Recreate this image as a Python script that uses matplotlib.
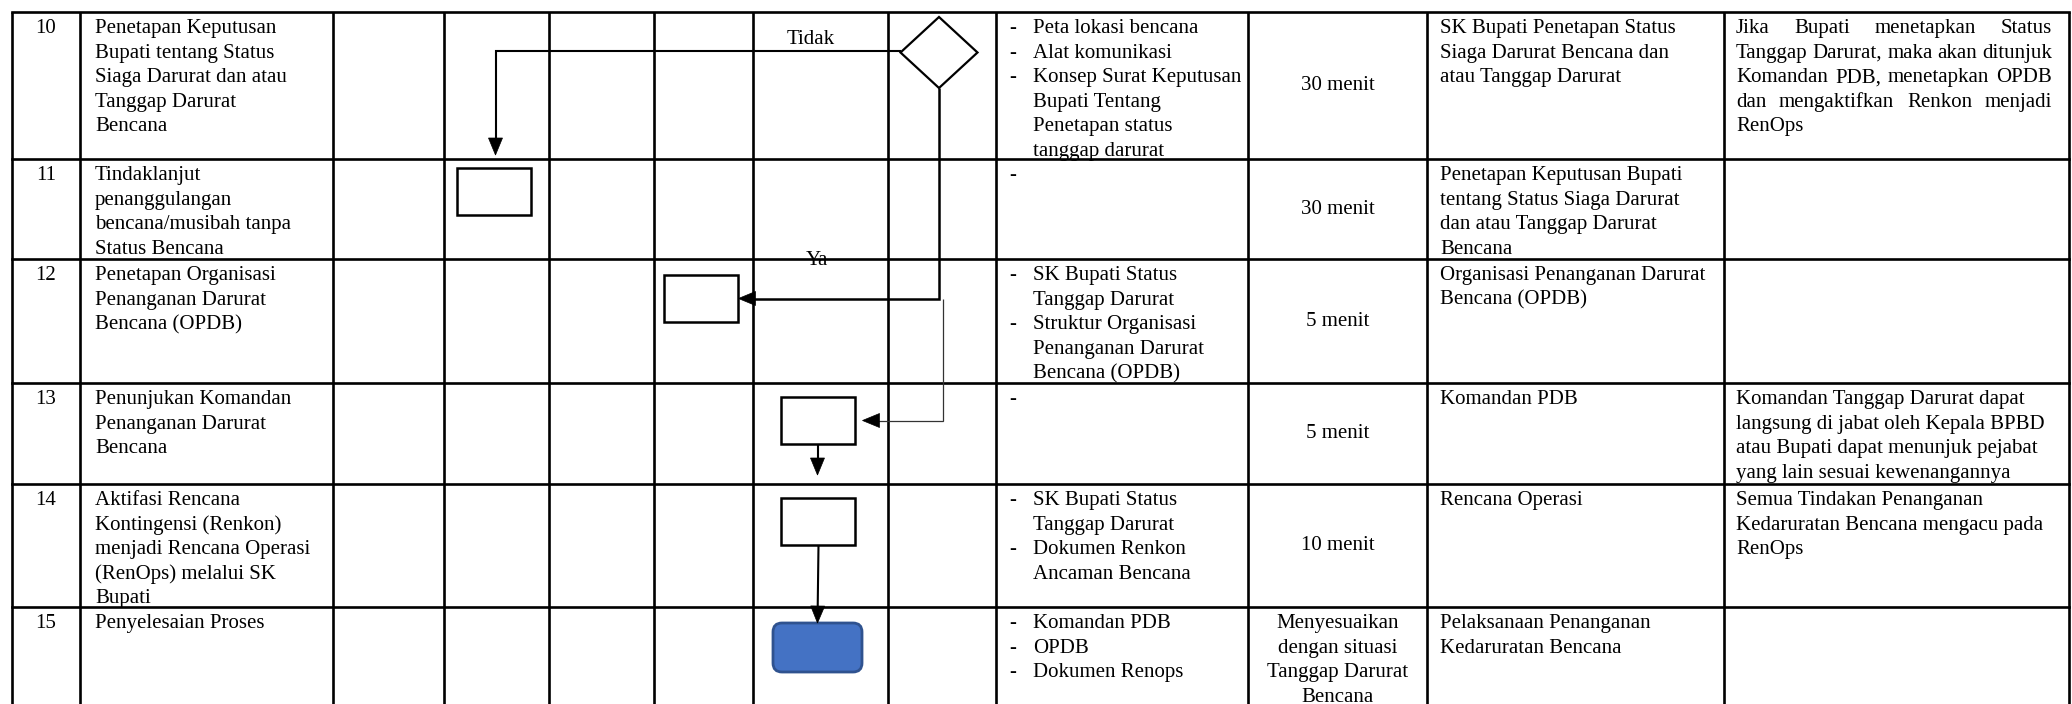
import math
import matplotlib
matplotlib.use('Agg')
import matplotlib.pyplot as plt
from matplotlib.patches import Rectangle, Polygon, FancyBboxPatch

plt.rcParams['font.family'] = ['Liberation Serif', 'DejaVu Serif']

# table grid (pixel positions of the cell borders)
col_edges = [12, 80, 333, 444, 549, 654, 753, 888, 996, 1248, 1427, 1724, 2069]
row_edges = [12, 159, 259, 383, 484, 607, 704]

step_numbers = ['10', '11', '12', '13', '14', '15']

kegiatan = [
    ['Penetapan Keputusan', 'Bupati tentang Status', 'Siaga Darurat dan atau', 'Tanggap Darurat', 'Bencana'],
    ['Tindaklanjut', 'penanggulangan', 'bencana/musibah tanpa', 'Status Bencana'],
    ['Penetapan Organisasi', 'Penanganan Darurat', 'Bencana (OPDB)'],
    ['Penunjukan Komandan', 'Penanganan Darurat', 'Bencana'],
    ['Aktifasi Rencana', 'Kontingensi (Renkon)', 'menjadi Rencana Operasi', '(RenOps) melalui SK', 'Bupati'],
    ['Penyelesaian Proses'],
]

kelengkapan = [
    [['Peta lokasi bencana'], ['Alat komunikasi'],
     ['Konsep Surat Keputusan', 'Bupati Tentang', 'Penetapan status', 'tanggap darurat']],
    [[]],
    [['SK Bupati Status', 'Tanggap Darurat'],
     ['Struktur Organisasi', 'Penanganan Darurat', 'Bencana (OPDB)']],
    [[]],
    [['SK Bupati Status', 'Tanggap Darurat'], ['Dokumen Renkon', 'Ancaman Bencana']],
    [['Komandan PDB'], ['OPDB'], ['Dokumen Renops']],
]

waktu = [
    ['30 menit'], ['30 menit'], ['5 menit'], ['5 menit'], ['10 menit'],
    ['Menyesuaikan', 'dengan situasi', 'Tanggap Darurat', 'Bencana'],
]

output = [
    ['SK Bupati Penetapan Status', 'Siaga Darurat Bencana dan', 'atau Tanggap Darurat'],
    ['Penetapan Keputusan Bupati', 'tentang Status Siaga Darurat', 'dan atau Tanggap Darurat', 'Bencana'],
    ['Organisasi Penanganan Darurat', 'Bencana (OPDB)'],
    ['Komandan PDB'],
    ['Rencana Operasi'],
    ['Pelaksanaan Penanganan', 'Kedaruratan Bencana'],
]

keterangan = [
    ['Jika Bupati menetapkan Status', 'Tanggap Darurat, maka akan ditunjuk',
     'Komandan PDB, menetapkan OPDB', 'dan mengaktifkan Renkon menjadi', 'RenOps'],
    [],
    [],
    ['Komandan Tanggap Darurat dapat', 'langsung di jabat oleh Kepala BPBD',
     'atau Bupati dapat menunjuk pejabat', 'yang lain sesuai kewenangannya'],
    ['Semua Tindakan Penanganan', 'Kedaruratan Bencana mengacu pada', 'RenOps'],
    [],
]
keterangan_justify = [True, False, False, False, False, False]

# flowchart symbols: row, lane column, kind, offset from the row top
shapes = [
    (0, 7, 'decision', 5),
    (1, 3, 'process', 9),
    (2, 5, 'process', 16),
    (3, 6, 'process', 14),
    (4, 6, 'process', 14),
    (5, 6, 'end', 16),
]
decision_labels = ['Tidak', 'Ya']

FS = 15
LINE = 24.6
BASE = 21

fig = plt.figure(figsize=(20.72, 7.04), dpi=100)
ax = fig.add_axes([0, 0, 1, 1])
ax.set_xlim(0, 2072)
ax.set_ylim(704, 0)
ax.axis('off')

# grid
for x in col_edges:
    ax.plot([x, x], [row_edges[0], row_edges[-1]], color='black', lw=1.9, solid_capstyle='butt')
for y in row_edges[:-1]:
    ax.plot([col_edges[0], col_edges[-1]], [y, y], color='black', lw=1.9, solid_capstyle='projecting')


def put(x, y, s, **kw):
    return ax.text(x, y, s, fontsize=FS, va='baseline', color='black', zorder=5, **kw)


renderer = fig.canvas.get_renderer()


def justified(x0, x1, y, line):
    words = line.split()
    texts = [put(0, y, w) for w in words]
    widths = [t.get_window_extent(renderer).width for t in texts]
    gap = (x1 - x0 - sum(widths)) / (len(words) - 1)
    x = x0
    for t, w in zip(texts, widths):
        t.set_x(x)
        x += w + gap


for i, top in enumerate(row_edges[:-1]):
    bottom = row_edges[i + 1]
    b0 = top + BASE
    put((col_edges[0] + col_edges[1]) / 2, b0, step_numbers[i], ha='center')
    for k, s in enumerate(kegiatan[i]):
        put(col_edges[1] + 15, b0 + k * LINE, s)
    k = 0
    for bullet in kelengkapan[i]:
        put(col_edges[8] + 13, b0 + k * LINE, '-')
        for s in bullet:
            put(col_edges[8] + 37, b0 + k * LINE, s)
            k += 1
    cx = (col_edges[9] + col_edges[10]) / 2
    if len(waktu[i]) == 1:
        ax.text(cx, (top + bottom) / 2, waktu[i][0], fontsize=FS, ha='center', va='center')
    else:
        for k, s in enumerate(waktu[i]):
            put(cx, b0 + k * LINE, s, ha='center')
    for k, s in enumerate(output[i]):
        put(col_edges[10] + 13, b0 + k * LINE, s)
    n = len(keterangan[i])
    for k, s in enumerate(keterangan[i]):
        if keterangan_justify[i] and k < n - 1:
            justified(col_edges[11] + 12, col_edges[-1] - 17, b0 + k * LINE, s)
        else:
            put(col_edges[11] + 12, b0 + k * LINE, s)

# flowchart symbols
geo = []
for row, lane, kind, off in shapes:
    cx = (col_edges[lane] + col_edges[lane + 1]) / 2 - 3
    top = row_edges[row] + off
    if kind == 'decision':
        w, h = 77, 71
        ax.add_patch(Polygon([(cx, top), (cx + w / 2, top + h / 2), (cx, top + h), (cx - w / 2, top + h / 2)],
                             closed=True, fc='white', ec='black', lw=1.6, zorder=3))
    elif kind == 'process':
        w, h = 74, 47
        ax.add_patch(Rectangle((cx - w / 2, top), w, h, fc='white', ec='black', lw=1.8, zorder=3))
    else:
        w, h = 89, 49
        ax.add_patch(FancyBboxPatch((cx - w / 2, top), w, h, boxstyle='round,pad=0,rounding_size=9',
                                    fc='#4472C4', ec='#2F528F', lw=2, zorder=3))
    geo.append((cx, top, w, h))


def arrow(pts, lw=1.5, color='black'):
    xs = [p[0] for p in pts]
    ys = [p[1] for p in pts]
    (x0, y0), (x1, y1) = pts[-2], pts[-1]
    L = math.hypot(x1 - x0, y1 - y0)
    ux, uy = (x1 - x0) / L, (y1 - y0) / L
    xs[-1] = x1 - ux * 10
    ys[-1] = y1 - uy * 10
    ax.plot(xs, ys, color=color, lw=lw, solid_joinstyle='miter', solid_capstyle='butt', zorder=4)
    bx, by = x1 - ux * 17, y1 - uy * 17
    px, py = -uy, ux
    ax.add_patch(Polygon([(x1, y1), (bx + px * 7, by + py * 7), (bx - px * 7, by - py * 7)],
                         closed=True, fc='black', ec='black', lw=0.5, zorder=4))


dcx, dtop, dw, dh = geo[0]
b11, b12, b13, b14, bend = geo[1], geo[2], geo[3], geo[4], geo[5]
ymid = dtop + dh / 2 - 2
arrow([(dcx - dw / 2, ymid), (b11[0] + 2, ymid), (b11[0] + 2, b11[1] - 13)])
y12 = b12[1] + b12[3] / 2
arrow([(dcx, dtop + dh), (dcx, y12), (b12[0] + b12[2] / 2 + 1, y12)], lw=1.8)
y13 = b13[1] + b13[3] / 2
arrow([(dcx + 4, y12), (dcx + 4, y13), (b13[0] + b13[2] / 2 + 8, y13)], lw=0.9, color='#333333')
arrow([(b13[0], b13[1] + b13[3]), (b13[0], b14[1] - 23)])
arrow([(b14[0] + 1, b14[1] + b14[3]), (bend[0], bend[1])])

put(811, 44, decision_labels[0], ha='center')
put(817, 265, decision_labels[1], ha='center')

fig.savefig('out.png', dpi=100)
